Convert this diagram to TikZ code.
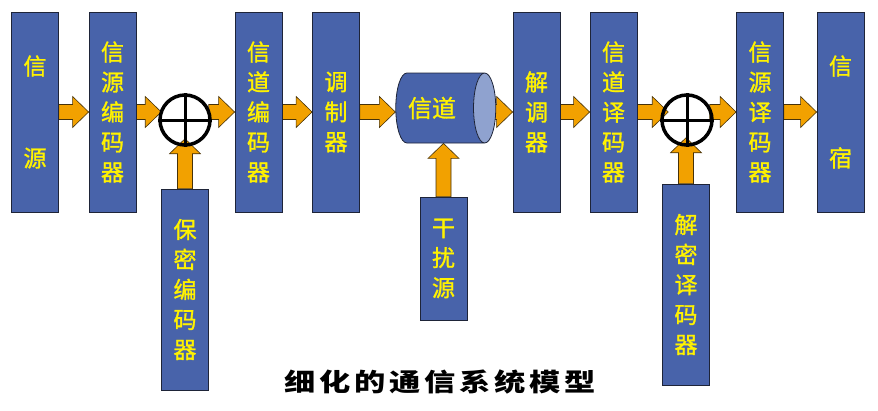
\documentclass[tikz,border=0pt]{standalone}
\usepackage{fontspec}
\newfontfamily\cjk[FakeBold=1.2]{Noto Sans CJK SC}
\newfontfamily\capfont[LetterSpace=12]{Noto Sans CJK SC}
\usetikzlibrary{calc,shapes.geometric}
\definecolor{bblue}{RGB}{72,99,170}
\definecolor{lblue}{RGB}{143,162,207}
\definecolor{bdr}{RGB}{30,36,56}
\definecolor{aorange}{RGB}{242,161,0}
\definecolor{adark}{RGB}{70,50,10}
\pgfdeclarelayer{bg}
\pgfsetlayers{bg,main}
\newcommand\harrow[2]{\path[arr] let \p1=#1, \p2=#2 in (\x1,\y1+7.5pt) -- (\x2-16pt,\y1+7.5pt) -- (\x2-16pt,\y1+15.5pt) -- (\x2,\y1) -- (\x2-16pt,\y1-15.5pt) -- (\x2-16pt,\y1-7.5pt) -- (\x1,\y1-7.5pt) -- cycle;}
\newcommand\varrow[2]{\path[arr] let \p1=#1, \p2=#2 in (\x1-7.5pt,\y1) -- (\x1-7.5pt,\y2-15pt) -- (\x1-15.5pt,\y2-15pt) -- (\x1,\y2) -- (\x1+15.5pt,\y2-15pt) -- (\x1+7.5pt,\y2-15pt) -- (\x1+7.5pt,\y1) -- cycle;}
\begin{document}
\begin{tikzpicture}[x=1pt,y=-1pt,
  box/.style={rectangle,draw=bdr,line width=0.8pt,fill=bblue,text=yellow,minimum width=47pt,minimum height=200pt,inner sep=0pt,align=center,font=\cjk\fontsize{23}{30}\selectfont},
  cyl/.style={cylinder,shape border rotate=0,aspect=1,minimum width=70pt,minimum height=100pt,draw=bdr,line width=0.8pt,cylinder uses custom fill,cylinder body fill=bblue,cylinder end fill=lblue,text=yellow,inner sep=0pt,font=\cjk\fontsize{24}{30}\selectfont},
  ring/.style={circle,draw=black,line width=3.5pt,minimum size=50pt,inner sep=0pt},
  arr/.style={fill=aorange,draw=adark,line width=0.6pt}]
\useasboundingbox (0,0) rectangle (878,410);
\node[box] (src) at (35,112) {信\\[62pt]源};
\node[box] (senc) at (112.5,112) {信\\源\\编\\码\\器};
\node[box] (cenc) at (258.5,112) {信\\道\\编\\码\\器};
\node[box] (mod) at (336,112) {调\\制\\器};
\node[cyl] (chan) at (440,108) {\hspace*{-8pt}信道\hspace*{8pt}};
\node[box] (dem) at (536.5,112) {解\\调\\器};
\node[box] (cdec) at (613.5,112) {信\\道\\译\\码\\器};
\node[box] (sdec) at (760,112) {信\\源\\译\\码\\器};
\node[box] (sink) at (840.5,112) {信\\[62pt]宿};
\node[box,minimum height=201pt] (kenc) at (185,289.5) {保\\密\\编\\码\\器};
\node[box,minimum height=123pt] (noise) at (443.5,258.5) {干\\扰\\源};
\node[box,minimum height=201pt] (kdec) at (686,284.5) {解\\密\\译\\码\\器};
\node[ring] (c1) at (185,120) {};
\node[ring] (c2) at (687,120) {};
\draw[line width=3pt] (c1.north) -- (c1.south) (c1.west) -- (c1.east);
\draw[line width=3pt] (c2.north) -- (c2.south) (c2.west) -- (c2.east);
\node[font=\capfont\bfseries\fontsize{25}{25}\selectfont] (cap) at (440,382) {\scalebox{1.25}[1]{细化的通信系统模型}};
\begin{pgfonlayer}{bg}
\harrow{(src.east)}{(senc.west)}
\harrow{(senc.east)}{([xshift=3pt]c1.west |- senc.east)}
\harrow{([xshift=-3pt]c1.east |- cenc.west)}{(cenc.west)}
\harrow{(cenc.east)}{(mod.west)}
\harrow{(mod.east)}{(chan.west |- mod.east)}
\harrow{([xshift=-7pt]chan.east |- dem.west)}{(dem.west)}
\harrow{(dem.east)}{(cdec.west)}
\harrow{(cdec.east)}{([xshift=8pt]c2.west |- cdec.east)}
\harrow{([xshift=-4pt]c2.east |- sdec.west)}{(sdec.west)}
\harrow{(sdec.east)}{(sink.west)}
\varrow{(kenc.north)}{([yshift=8pt]c1.south)}
\varrow{(noise.north)}{(chan.south -| noise.north)}
\varrow{(kdec.north)}{([yshift=9pt]c2.south -| kdec.north)}
\end{pgfonlayer}
\end{tikzpicture}
\end{document}
